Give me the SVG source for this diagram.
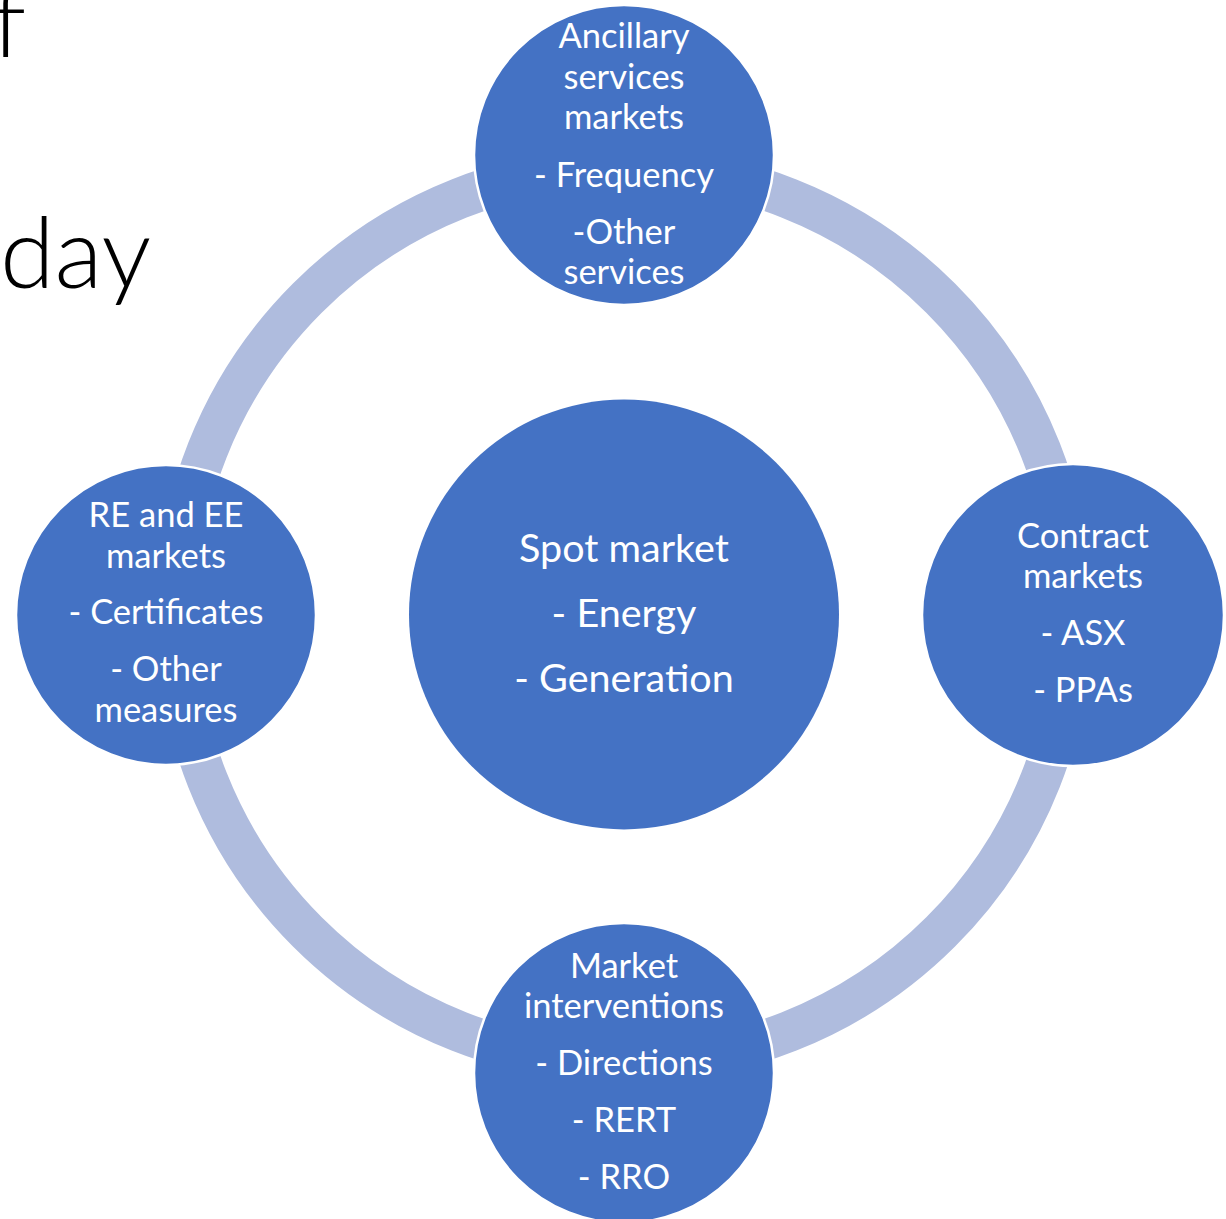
<svg xmlns="http://www.w3.org/2000/svg" width="1226" height="1219" viewBox="0 0 1226 1219">
  <style>
    .title { font-family: Lato, "Liberation Sans", sans-serif; font-weight: 300; font-size: 99px; fill: #000000; }
    .node { fill: #4472C4; stroke: #FFFFFF; stroke-width: 2.5; }
    .hub { fill: #4472C4; stroke: none; }
    .ring { fill: none; stroke: #AFBCDE; stroke-width: 41; }
    .lbl { font-family: Lato, "Liberation Sans", sans-serif; font-size: 34.5px; fill: #FFFFFF; text-anchor: middle; }
    .hublbl { font-family: Lato, "Liberation Sans", sans-serif; font-size: 39.5px; fill: #FFFFFF; text-anchor: middle; }
  </style>
  <rect x="0" y="0" width="1226" height="1219" fill="#FFFFFF"/>

  <g id="title-fragments">
    <text class="title" x="26" y="57" text-anchor="end">f</text>
    <text class="title" x="0" y="288">day</text>
  </g>

  <g id="connectors">
    <circle class="ring" cx="624" cy="615" r="448"/>
  </g>

  <g id="node-spot">
    <circle class="hub" cx="624" cy="614.5" r="215"/>
    <text class="hublbl" x="624" y="562">Spot market</text>
    <text class="hublbl" x="624" y="627">- Energy</text>
    <text class="hublbl" x="624" y="692">- Generation</text>
  </g>

  <g id="node-ancillary">
    <circle class="node" cx="624" cy="155" r="150"/>
    <text class="lbl" x="624" y="48">Ancillary</text>
    <text class="lbl" x="624" y="89">services</text>
    <text class="lbl" x="624" y="129">markets</text>
    <text class="lbl" x="624" y="187">- Frequency</text>
    <text class="lbl" x="624" y="244">-Other</text>
    <text class="lbl" x="624" y="284">services</text>
  </g>

  <g id="node-contract">
    <circle class="node" cx="1073" cy="615" r="151"/>
    <text class="lbl" x="1083" y="548">Contract</text>
    <text class="lbl" x="1083" y="588">markets</text>
    <text class="lbl" x="1083" y="645">- ASX</text>
    <text class="lbl" x="1083" y="702">- PPAs</text>
  </g>

  <g id="node-interventions">
    <circle class="node" cx="624" cy="1073" r="150"/>
    <text class="lbl" x="624" y="978">Market</text>
    <text class="lbl" x="624" y="1018">interventions</text>
    <text class="lbl" x="624" y="1075">- Directions</text>
    <text class="lbl" x="624" y="1132">- RERT</text>
    <text class="lbl" x="624" y="1189">- RRO</text>
  </g>

  <g id="node-re-ee">
    <circle class="node" cx="166" cy="615" r="150"/>
    <text class="lbl" x="166" y="527">RE and EE</text>
    <text class="lbl" x="166" y="568">markets</text>
    <text class="lbl" x="166" y="624">- Certificates</text>
    <text class="lbl" x="166" y="681">- Other</text>
    <text class="lbl" x="166" y="722">measures</text>
  </g>
</svg>
